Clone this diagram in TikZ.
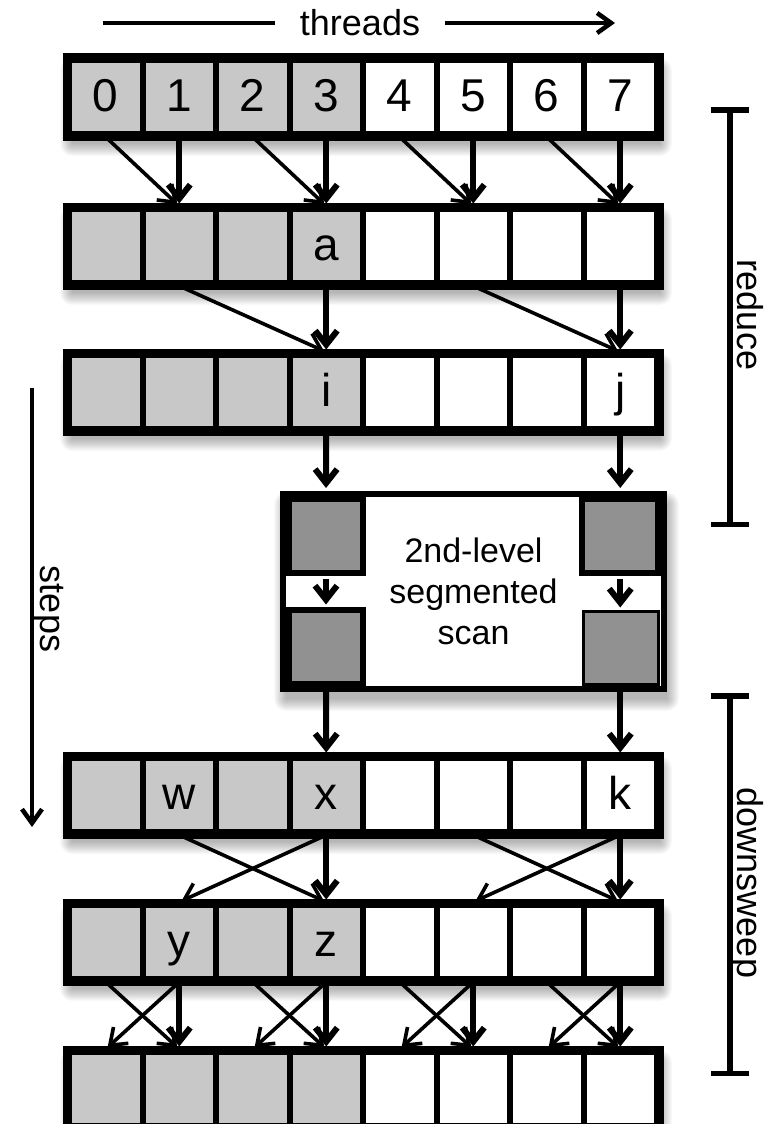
\documentclass[tikz,border=0pt]{standalone}
\usepackage{fontspec}
\setmainfont{Liberation Sans}
\usetikzlibrary{arrows.meta,calc}
\definecolor{cellgray}{RGB}{200,200,200}
\definecolor{sqgray}{RGB}{145,145,145}
\newcommand\softshadow[4]{%
  \foreach \k in {0,...,12}{%
    \fill[black,opacity=0.025,rounded corners=\k pt] (#1+3-\k,#2+10-\k) rectangle (#3+3+\k,#4+10+\k);}}
\tikzset{
  cellbox/.style={draw, line width=6pt, minimum width=73.5pt, minimum height=74pt, inner sep=0pt},
  celltext/.style={inner sep=0pt, text height=28pt, text depth=0pt, font=\fontsize{46}{50}\selectfont},
  vflow/.style={line width=6pt, -{Straight Barb[length=14pt,width=22pt]}, shorten >=2.5pt, shorten <=2.5pt},
  dflow/.style={line width=3.6pt, -{Straight Barb[length=15pt,width=22pt]}, shorten >=2.5pt, shorten <=2.5pt},
  sqbox/.style={draw, line width=6pt, fill=sqgray, inner sep=0pt, minimum width=74pt, minimum height=74pt},
  lbl/.style={font=\fontsize{36}{40}\selectfont, inner sep=0pt},
  bracket/.style={line width=5.5pt, {Bar[width=38pt]}-{Bar[width=38pt]}},
}
\begin{document}
\begin{tikzpicture}[x=1pt,y=-1pt]
\useasboundingbox[fill=white] (0,0) rectangle (767,1124);

% rows of cells
\foreach \r/\y in {0/97,1/246,2/392,3/795,4/942,5/1089}{
  \softshadow{69}{\y-37}{657}{\y+37}
  \foreach \c in {0,...,7}{
    \pgfmathsetmacro\xx{105.75+73.5*\c}
    \ifnum\c<4 \def\fc{cellgray}\else\def\fc{white}\fi
    \node[cellbox, fill=\fc] (c\r-\c) at (\xx,\y) {};
  }
  \draw[line width=7pt] (c\r-0.north west) rectangle (c\r-7.south east);
}

% cell texts
\foreach \r/\c/\t in {0/0/0,0/1/1,0/2/2,0/3/3,0/4/4,0/5/5,0/6/6,0/7/7,
                      1/3/a,2/3/i,2/7/j,3/1/w,3/3/x,3/7/k,4/1/y,4/3/z}{
  \node[celltext] (t\r-\c) at (c\r-\c) {\t};
}

% second-level box
\softshadow{283}{494}{664}{689}
\node[draw, line width=6.5pt, fill=white, minimum width=381pt, minimum height=195pt, inner sep=0pt,
      align=center, font=\fontsize{34}{41}\selectfont] (box) at (473.5,591.5) {2nd-level\\segmented\\scan};
\node[sqbox] (sq1) at (326,536) {};
\node[sqbox] (sq2) at (326,647) {};
\node[sqbox, minimum width=76pt] (sq3) at (620,536) {};
\node[sqbox, line width=3pt, minimum width=75pt, minimum height=73pt] (sq4) at (621,648) {};

% reduce arrows
\foreach \a/\b in {0/1,2/3,4/5,6/7}{
  \draw[dflow] (c0-\a.south) -- (c1-\b.north);
  \draw[vflow] (c0-\b.south) -- (c1-\b.north);
}
\foreach \a/\b in {1/3,5/7}{
  \draw[dflow] (c1-\a.south) -- (c2-\b.north);
  \draw[vflow] (c1-\b.south) -- (c2-\b.north);
}
\draw[vflow, shorten >=8pt] (c2-3.south) -- (sq1.north);
\draw[vflow, shorten >=8pt] (c2-7.south) -- (c2-7.south |- sq3.north);
\draw[vflow] (sq1.south) -- (sq2.north);
\draw[vflow] (c2-7.south |- sq3.south) -- (c2-7.south |- sq4.north);
\draw[vflow] (sq2.south) -- (c3-3.north);
\draw[vflow] (c3-7.north |- sq4.south) -- (c3-7.north);

% downsweep arrows
\foreach \a/\b in {1/3,5/7}{
  \draw[dflow] (c3-\a.south) -- (c4-\b.north);
  \draw[dflow] (c3-\b.south) -- (c4-\a.north);
  \draw[vflow] (c3-\b.south) -- (c4-\b.north);
}
\foreach \a/\b in {0/1,2/3,4/5,6/7}{
  \draw[dflow] (c4-\a.south) -- (c5-\b.north);
  \draw[dflow] (c4-\b.south) -- (c5-\a.north);
  \draw[vflow] (c4-\b.south) -- (c5-\b.north);
}

% threads arrow
\node[lbl, text height=26pt, text depth=0pt] (threads) at (360,23) {threads};
\coordinate (thL) at (103,23);
\coordinate (thR) at (615,23);
\draw[line width=4.5pt] (thL) -- ([xshift=-25pt]threads.west);
\draw[line width=4.5pt, -{Straight Barb[length=14pt,width=20pt]}] ([xshift=25pt]threads.east) -- (thR);

% steps arrow
\coordinate (stT) at (32,388);
\coordinate (stB) at (32,827);
\draw[line width=4.5pt, -{Straight Barb[length=14pt,width=20pt]}] (stT) -- (stB);
\node[lbl, rotate=-90, anchor=base] (steps) at (40,609) {steps};

% brackets
\coordinate (rdT) at (730,107);
\coordinate (rdB) at (730,527);
\draw[bracket] (rdT) -- (rdB);
\node[lbl, rotate=-90, anchor=base] (reduce) at (737,315) {reduce};
\coordinate (dsT) at (730,693);
\coordinate (dsB) at (730,1076);
\draw[bracket] (dsT) -- (dsB);
\node[lbl, rotate=-90, anchor=base] (downsweep) at (737,883) {downsweep};
\end{tikzpicture}
\end{document}
